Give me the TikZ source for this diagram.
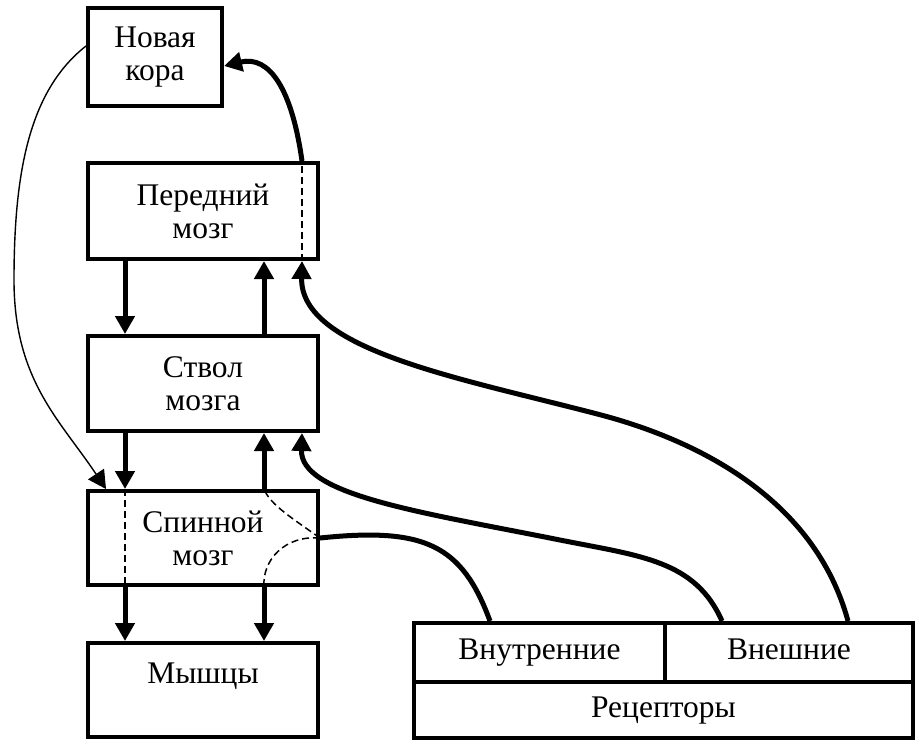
\documentclass[tikz,border=0pt]{standalone}
\usepackage{fontspec}
\setmainfont{Liberation Serif}
\usetikzlibrary{arrows.meta,calc}
\begin{document}
\begin{tikzpicture}[x=1pt,y=-1pt,
  box/.style={draw,line width=4pt,rectangle,inner sep=0pt,align=center,
    font=\fontsize{31.5}{33}\selectfont},
  mainbox/.style={box,minimum width=230pt},
  cell/.style={box,text height=21pt,text depth=7pt},
  thickarrow/.style={line width=5pt,-{Triangle[length=18pt,width=19pt]}},
  thickline/.style={line width=5pt},
  thinarrow/.style={line width=1.4pt,-{Triangle[length=18pt,width=19pt]}},
  dashline/.style={line width=1.5pt,dash pattern=on 7pt off 4pt}]
\useasboundingbox (0,0) rectangle (919,740);
\fill[white] (0,0) rectangle (919,740);

\node[box,minimum width=134pt,minimum height=98pt] (kora) at (155,57) {Новая\\кора};
\node[mainbox,minimum height=96pt] (pered) at (203,211) {Передний\\мозг};
\node[mainbox,minimum height=95pt] (stvol) at (203,383.5) {Ствол\\мозга};
\node[mainbox,minimum height=94pt] (spin) at (203,538) {Спинной\\мозг};
\node[mainbox,minimum height=94pt] (mysh) at (203,690) {Мышцы\\\mbox{}};

\node[cell,minimum width=251pt,minimum height=59pt] (vnutr) at (539.5,652.5) {Внутренние};
\node[cell,minimum width=248pt,minimum height=59pt] (vnesh) at (789,652.5) {Внешние};
\node[cell,minimum width=499pt,minimum height=56pt] (recep) at (663.5,710) {Рецепторы};

% vertical arrows
\draw[thickarrow] ([xshift=39pt]pered.south west) -- ([xshift=39pt]stvol.north west);
\draw[thickarrow] ([xshift=-56pt]stvol.north east) -- ([xshift=-56pt]pered.south east);
\draw[thickarrow] ([xshift=39pt]stvol.south west) -- ([xshift=39pt]spin.north west);
\draw[thickarrow] ([xshift=-56pt]spin.north east) -- ([xshift=-56pt]stvol.south east);
\draw[thickarrow] ([xshift=39pt]spin.south west) -- ([xshift=39pt]mysh.north west);
\draw[thickarrow] ([xshift=-56pt]spin.south east) -- ([xshift=-56pt]mysh.north east);

% dashed inside boxes
\draw[dashline] ([xshift=39pt]spin.north west) -- ([xshift=39pt]spin.south west);
\draw[dashline] ([xshift=-18pt]pered.south east) -- ([xshift=-18pt]pered.north east);
\draw[dashline] (spin.east) .. controls (295,520) and (270,505) .. ([xshift=-56pt]spin.north east);
\draw[dashline] (spin.east) .. controls (285,535) and (262,560) .. ([xshift=-56pt]spin.south east);

% forebrain -> neocortex
\draw[thickarrow] ([xshift=-18pt]pered.north east) .. controls (292,90) and (270,55) .. ([yshift=-9pt]kora.east);

% neocortex -> spinal cord (thin)
\coordinate (bend) at (14,280);
\draw[thinarrow] ([yshift=11pt]kora.west) .. controls (30,90) and (14,170) .. (bend)
  .. controls (14,380) and (60,420) .. ([xshift=20pt]spin.north west);

% receptors -> brain
\coordinate (ma) at (600,414.7);
\draw[thickarrow] ([xshift=59pt]vnesh.north) .. controls (815,500) and (700,441) .. (ma)
  .. controls (460,378) and (300,350) .. ([xshift=-18pt]pered.south east);
\coordinate (mb) at (560,540);
\draw[thickarrow] ([xshift=-67pt]vnesh.north) .. controls (695,560) and (640,556) .. (mb)
  .. controls (420,512) and (300,495) .. ([xshift=-18pt]stvol.south east);
\draw[thickline] ([xshift=-49.5pt]vnutr.north) .. controls (462,545) and (425,527) .. (spin.east);
\end{tikzpicture}
\end{document}
